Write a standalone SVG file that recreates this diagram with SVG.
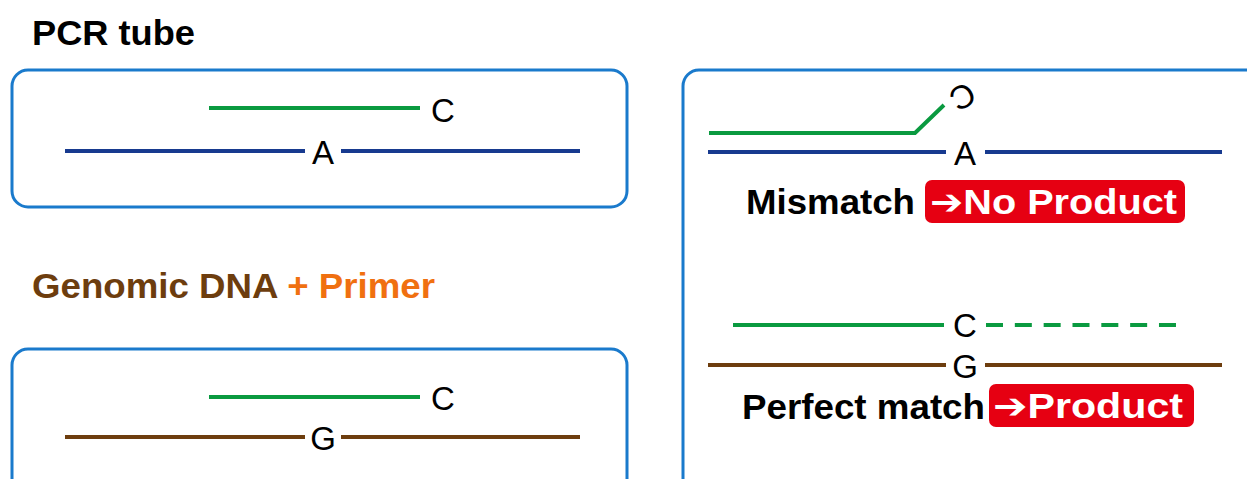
<svg xmlns="http://www.w3.org/2000/svg" width="1247" height="479" viewBox="0 0 1247 479">
<style>
.box{fill:#fff;stroke:#1a7acc;stroke-width:3}
.title{font-family:"Liberation Sans",Arial,sans-serif;font-weight:bold;font-size:35px}
.base{font-family:"Liberation Sans",Arial,sans-serif;font-size:33px;fill:#000;text-anchor:middle}
.tag{font-family:"Liberation Sans","DejaVu Sans",sans-serif;font-weight:bold;font-size:35px;fill:#fff}
.green{stroke:#0a9a40;stroke-width:4;fill:none}
.blue{stroke:#173a8f;stroke-width:4;fill:none}
.brown{stroke:#6d3d0e;stroke-width:4;fill:none}
.red{fill:#e60012}
</style>
<rect width="1247" height="479" fill="#fff"/>
<text class="title" x="32" y="45" fill="#000" textLength="163" lengthAdjust="spacingAndGlyphs">PCR tube</text>
<text class="title" x="32" y="298" textLength="403" lengthAdjust="spacingAndGlyphs"><tspan fill="#6d3d0e">Genomic DNA </tspan><tspan fill="#f07010">+ Primer</tspan></text>

<g id="tube-mismatch">
<rect class="box" x="12" y="70" width="615" height="137" rx="16"/>
<line class="green" x1="209" y1="108" x2="420" y2="108"/>
<text class="base" x="443" y="122">C</text>
<line class="blue" x1="65" y1="151" x2="305" y2="151"/>
<line class="blue" x1="341" y1="151" x2="580" y2="151"/>
<text class="base" x="323" y="164">A</text>
</g>

<g id="tube-match">
<rect class="box" x="12" y="349" width="615" height="150" rx="16"/>
<line class="green" x1="209" y1="397" x2="420" y2="397"/>
<text class="base" x="443" y="410">C</text>
<line class="brown" x1="65" y1="437" x2="305" y2="437"/>
<line class="brown" x1="341" y1="437" x2="580" y2="437"/>
<text class="base" x="323" y="450">G</text>
</g>

<g id="results">
<rect class="box" x="683" y="70" width="590" height="440" rx="16"/>
</g>

<g id="mismatch">
<polyline class="green" points="709,133 915,133 944,105"/>
<text class="base" x="0" y="0" font-size="35" transform="translate(963,97) rotate(150) translate(0,12)">C</text>
<line class="blue" x1="708" y1="152" x2="946" y2="152"/>
<line class="blue" x1="985" y1="152" x2="1222" y2="152"/>
<text class="base" x="965" y="165">A</text>
<text class="title" x="746" y="214" fill="#000" textLength="169" lengthAdjust="spacingAndGlyphs">Mismatch</text>
<rect class="red" x="925" y="180" width="260" height="43" rx="7"/>
<text class="tag" x="930" y="214" textLength="247" lengthAdjust="spacingAndGlyphs">➔No Product</text>
</g>

<g id="match">
<line class="green" x1="733" y1="325" x2="944" y2="325"/>
<text class="base" x="965" y="337">C</text>
<line class="green" x1="986" y1="325" x2="1176" y2="325" stroke-dasharray="17 11.83"/>
<line class="brown" x1="708" y1="365" x2="946" y2="365"/>
<line class="brown" x1="985" y1="365" x2="1222" y2="365"/>
<text class="base" x="965" y="378">G</text>
<text class="title" x="742" y="419" fill="#000" textLength="243" lengthAdjust="spacingAndGlyphs">Perfect match</text>
<rect class="red" x="989" y="384" width="205" height="43" rx="7"/>
<text class="tag" x="993" y="418" textLength="190" lengthAdjust="spacingAndGlyphs">➔Product</text>
</g>
</svg>
